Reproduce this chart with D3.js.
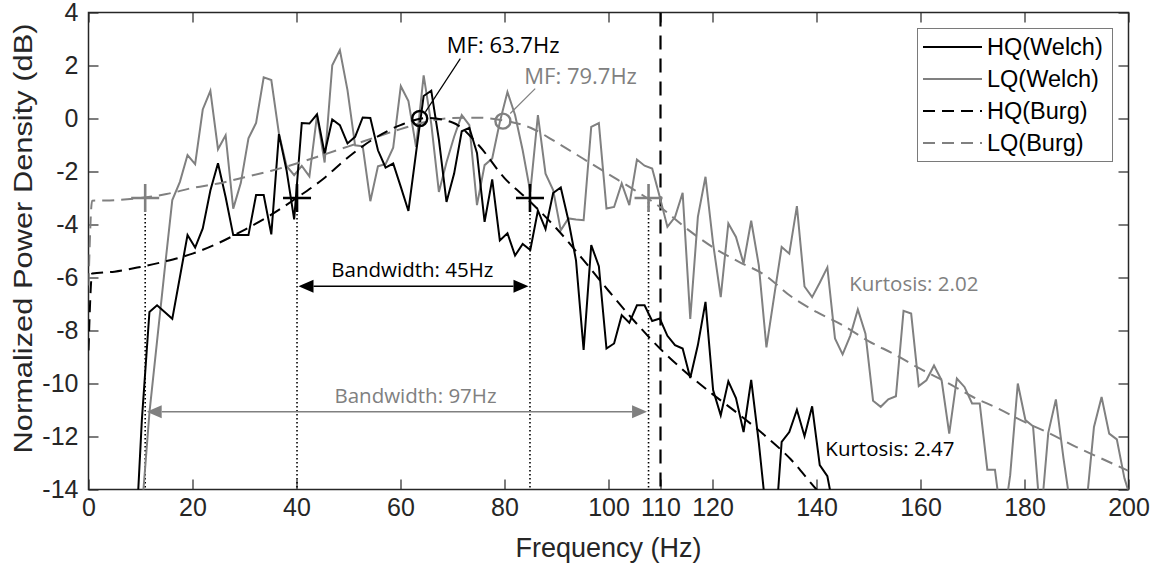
<!DOCTYPE html>
<html><head><meta charset="utf-8">
<script src="https://cdn.jsdelivr.net/npm/d3@7"></script>
<style>
body{margin:0;background:#fff;}
svg{display:block;}
</style></head><body>
<svg id="chart" width="1157" height="565"></svg>
<script>
// ---------- data ----------
const df = 1.46484375; // Welch frequency resolution (Hz)
const hqWelch = [-25,-25,-25,-25,-25,-25,-17,-11.4,-7.3,-7.05,
 -7.3,-7.56,-5.98,-4.4,-4.87,-4.15,-2.72,-1.69,-2.96,-4.4,
 -4.4,-4.4,-2.89,-2.89,-4.37,-0.59,-1.95,-3.81,-0.17,-0.19,
 0.16,-1.32,-0.04,-0.25,-0.94,-0.69,0.04,0.02,-1.2,-1.85,
 -1.7,-2.58,-3.49,-1.3,0.85,1.05,-0.8,-3.15,-2.08,-0.48,
 -0.35,-1.3,-3.9,-2.3,-4.6,-4.33,-5.17,-4.73,-4.96,-3.47,
 -4.17,-2.81,-2.6,-3.84,-5.35,-8.73,-4.78,-5.57,-8.68,-8.49,
 -7.42,-7.71,-7.05,-7.05,-7.64,-7.55,-8.2,-8.55,-8.68,-9.79,
 -8.55,-6.92,-10.25,-11.2,-9.92,-10.55,-11.83,-9.86,-12.23,-15,
 -16.2,-12.2,-11.83,-10.99,-11.99,-10.86,-13.08,-13.5,-15,-17];
const lqWelch = [-25,-25,-25,-25,-25,-25,-22,-14.8,-11.1,-8.4,
 -5.7,-3.08,-2.39,-1.38,-1.72,0.34,1.04,-1.16,-0.63,-3.4,
 -2.43,-0.75,-0.17,1.55,1.45,-0.57,-1.79,-2.14,-1.79,-2.18,
 0.12,-1.66,2.01,2.58,1.07,-1.01,-1.05,-3.12,-1.8,-1.72,
 -1.1,1.22,0.66,-1.07,1.63,-0.2,-2.77,-1.65,-0.69,0.13,
 -0.25,-3.27,-1.76,-1.51,-0.13,1.0,0.13,-1.2,-2.77,0.13,
 -2.08,-2.7,-4.22,-3.77,-3.81,-3.84,-0.32,-0.17,-3.4,-3.34,
 -2.45,-3.27,-1.55,-1.78,-1.89,-2.96,-4.09,-3.72,-2.8,-7.56,
 -3.71,-2.2,-4.72,-6.74,-3.96,-4.47,-5.47,-3.86,-5.54,-8.64,
 -6.73,-4.85,-5.1,-3.31,-6.34,-6.74,-6.2,-5.62,-8.3,-8.9,
 -8.2,-7.21,-8.12,-10.65,-10.88,-10.6,-10.48,-7.26,-7.36,-10.1,
 -9.88,-9.32,-9.88,-11.89,-9.81,-10.13,-10.75,-10.75,-13.25,-13.25,
 -15.5,-13.46,-10.0,-11.38,-11.61,-15.2,-11.86,-10.6,-12.83,-14.8,
 -15.5,-14.6,-11.64,-10.51,-11.89,-12.11,-13.58,-14.5];
const burgFreqHQ = [0,0.7,5,10,15,20,25,30,35,40,45,50,55,60,65,70,75,80,85,90,95,100,105,110,115,120,125,130,135,140,145];
const hqBurg = [-8.75,-5.85,-5.78,-5.6,-5.38,-5.1,-4.7,-4.2,-3.65,-3.0,-2.3,-1.45,-0.75,-0.25,0.02,-0.15,-1.0,-2.25,-3.15,-4.15,-5.3,-6.5,-7.65,-8.7,-9.6,-10.4,-11.15,-11.95,-12.85,-14.0,-15.0];
const burgFreqLQ = [0,0.7,5,10,15,20,25,30,35,40,45,50,55,60,65,70,75,80,85,90,95,100,105,110,115,120,125,130,135,140,145,150,155,160,165,170,175,180,185,190,195,200];
const lqBurg = [-6.3,-3.1,-3.08,-3.0,-2.85,-2.62,-2.45,-2.22,-1.98,-1.7,-1.38,-1.05,-0.72,-0.4,-0.12,0.02,0.03,-0.08,-0.35,-0.9,-1.5,-2.1,-2.7,-3.35,-4.15,-4.85,-5.4,-5.9,-6.7,-7.3,-7.8,-8.4,-8.9,-9.45,-9.95,-10.5,-10.95,-11.45,-11.9,-12.4,-12.85,-13.3];
const xTicks = [0,20,40,60,80,100,110,120,140,160,180,200];
const yTicks = [-14,-12,-10,-8,-6,-4,-2,0,2,4];
const seriesNames = ["HQ(Welch)","LQ(Welch)","HQ(Burg)","LQ(Burg)"];
const mfFreq = [63.7, 79.7];
const mfLevel = [0, -0.1];
const bwLow = [40.1, 10.9];
const bwHigh = [84.9, 107.7];
const bwLevel = -3;
const cutoffFreq = 110;

// ---------- layout ----------
const BLACK = "#000", GRAY = "#808080";
const svg = d3.select("#chart");
const x = d3.scaleLinear().domain([0,200]).range([88.5,1128.5]);
const y = d3.scaleLinear().domain([-14,4]).range([489.5,12.5]);
const tickFont = "'Liberation Sans', Arial, sans-serif";
const annFont = "'Open Sans', 'Noto Sans', sans-serif";

svg.append("defs").append("clipPath").attr("id","plot")
  .append("rect").attr("x",x(0)).attr("y",y(4)).attr("width",x(200)-x(0)).attr("height",y(-14)-y(4));

function styleAxis(g, showLabels){
  g.select(".domain").remove();
  g.selectAll(".tick line").attr("stroke","#262626").attr("stroke-width",1.2);
  g.selectAll(".tick text").attr("font-family",tickFont).attr("font-size",25).attr("fill","#262626");
  if(!showLabels) g.selectAll(".tick text").remove();
}
svg.append("g").attr("transform",`translate(0,${y(-14)})`)
  .call(d3.axisBottom(x).tickValues(xTicks).tickSize(-10).tickPadding(9).tickFormat(d=>String(d)))
  .call(g=>styleAxis(g,true));
svg.append("g").attr("transform",`translate(0,${y(4)})`)
  .call(d3.axisTop(x).tickValues(xTicks).tickSize(-10))
  .call(g=>styleAxis(g,false));
svg.append("g").attr("transform",`translate(${x(0)},0)`)
  .call(d3.axisLeft(y).tickValues(yTicks).tickSize(-10).tickPadding(10).tickFormat(d=>String(d)))
  .call(g=>styleAxis(g,true));
svg.append("g").attr("transform",`translate(${x(200)},0)`)
  .call(d3.axisRight(y).tickValues(yTicks).tickSize(-10))
  .call(g=>styleAxis(g,false));

svg.append("rect").attr("x",x(0)).attr("y",y(4)).attr("width",x(200)-x(0)).attr("height",y(-14)-y(4))
  .attr("fill","none").attr("stroke","#262626").attr("stroke-width",1.5);

svg.append("text").attr("x",(x(0)+x(200))/2).attr("y",557).attr("text-anchor","middle")
  .attr("font-family",tickFont).attr("font-size",27).attr("fill","#262626").text("Frequency (Hz)");
svg.append("text").attr("transform",`translate(32,238.5) rotate(-90)`).attr("text-anchor","middle")
  .attr("font-family",tickFont).attr("font-size",26).attr("fill","#262626")
  .attr("textLength",430).attr("lengthAdjust","spacingAndGlyphs")
  .text("Normalized Power Density (dB)");

// ---------- series ----------
const plot = svg.append("g").attr("clip-path","url(#plot)");
const welchLine = d3.line().x((d,i)=>x(i*df)).y(d=>y(d));
const burgLine = d3.line().x(d=>x(d[0])).y(d=>y(d[1])).curve(d3.curveMonotoneX);

// cutoff line
plot.append("line").attr("x1",x(cutoffFreq)).attr("x2",x(cutoffFreq)).attr("y1",y(4)).attr("y2",y(-14))
  .attr("stroke",BLACK).attr("stroke-width",2.2).attr("stroke-dasharray","14,9");

// dotted bandwidth verticals
[...bwLow, ...bwHigh].forEach(f=>{
  plot.append("line").attr("x1",x(f)).attr("x2",x(f)).attr("y1",y(bwLevel)).attr("y2",y(-14))
    .attr("stroke",BLACK).attr("stroke-width",1.6).attr("stroke-dasharray","1.6,2.4");
});

plot.append("path").datum(lqWelch).attr("d",welchLine).attr("fill","none").attr("stroke",GRAY).attr("stroke-width",2);
plot.append("path").datum(hqWelch).attr("d",welchLine).attr("fill","none").attr("stroke",BLACK).attr("stroke-width",2);
plot.append("path").datum(burgFreqLQ.map((f,i)=>[f,lqBurg[i]])).attr("d",burgLine).attr("fill","none")
  .attr("stroke",GRAY).attr("stroke-width",2).attr("stroke-dasharray","12,7");
plot.append("path").datum(burgFreqHQ.map((f,i)=>[f,hqBurg[i]])).attr("d",burgLine).attr("fill","none")
  .attr("stroke",BLACK).attr("stroke-width",2).attr("stroke-dasharray","12,7");

// ---------- markers ----------
const colors = [BLACK, GRAY];
[0,1].forEach(s=>{
  [bwLow[s], bwHigh[s]].forEach(f=>{
    const cx=x(f), cy=y(bwLevel), h=14;
    svg.append("path").attr("d",`M${cx-h},${cy}H${cx+h}M${cx},${cy-h}V${cy+h}`)
      .attr("stroke",colors[s]).attr("stroke-width",2.6).attr("fill","none");
  });
  svg.append("circle").attr("cx",x(mfFreq[s])).attr("cy",y(mfLevel[s])).attr("r",7.5)
    .attr("fill","none").attr("stroke",colors[s]).attr("stroke-width",2.4);
});

// MF leaders and labels
svg.append("line").attr("x1",x(64.8)).attr("y1",y(0.25)).attr("x2",x(71.5)).attr("y2",y(2.26))
  .attr("stroke",BLACK).attr("stroke-width",1.2);
svg.append("text").attr("x",x(68.9)).attr("y",y(2.46)).attr("font-family",annFont).attr("font-size",22)
  .attr("fill",BLACK).text("MF: 63.7Hz");
svg.append("line").attr("x1",x(81.1)).attr("y1",y(0.19)).attr("x2",x(85.9)).attr("y2",y(1.13))
  .attr("stroke",GRAY).attr("stroke-width",1.2);
svg.append("text").attr("x",x(83.8)).attr("y",y(1.29)).attr("font-family",annFont).attr("font-size",22)
  .attr("fill",GRAY).text("MF: 79.7Hz");

// bandwidth arrows
function arrow(f0,f1,lev,col){
  const yy=y(lev), a=x(f0)+1.5, b=x(f1)-1.5, L=15, w=6.5;
  svg.append("line").attr("x1",a+L).attr("x2",b-L).attr("y1",yy).attr("y2",yy).attr("stroke",col).attr("stroke-width",1.5);
  svg.append("path").attr("d",`M${a},${yy}L${a+L},${yy-w}L${a+L},${yy+w}Z`).attr("fill",col);
  svg.append("path").attr("d",`M${b},${yy}L${b-L},${yy-w}L${b-L},${yy+w}Z`).attr("fill",col);
}
arrow(bwLow[0],bwHigh[0],-6.33,BLACK);
arrow(bwLow[1],bwHigh[1],-11.07,GRAY);
svg.append("text").attr("x",x(46.7)).attr("y",y(-5.99)).attr("font-family",annFont).attr("font-size",20.5)
  .attr("fill",BLACK).text("Bandwidth: 45Hz");
svg.append("text").attr("x",x(47.3)).attr("y",y(-10.74)).attr("font-family",annFont).attr("font-size",20.5)
  .attr("fill",GRAY).text("Bandwidth: 97Hz");
svg.append("text").attr("x",x(146.3)).attr("y",y(-6.52)).attr("font-family",annFont).attr("font-size",20.5)
  .attr("fill",GRAY).text("Kurtosis: 2.02");
svg.append("text").attr("x",x(141.7)).attr("y",y(-12.75)).attr("font-family",annFont).attr("font-size",20.5)
  .attr("fill",BLACK).text("Kurtosis: 2.47");

// ---------- legend ----------
const lg = svg.append("g");
lg.append("rect").attr("x",917.5).attr("y",28.5).attr("width",195).attr("height",133)
  .attr("fill","#fff").attr("stroke","#7a7a7a").attr("stroke-width",1);
const legStyle = [[BLACK,null],[GRAY,null],[BLACK,"12,7"],[GRAY,"12,7"]];
seriesNames.forEach((name,i)=>{
  const yy = 47 + i*32;
  lg.append("line").attr("x1",923).attr("x2",982).attr("y1",yy).attr("y2",yy)
    .attr("stroke",legStyle[i][0]).attr("stroke-width",2).attr("stroke-dasharray",legStyle[i][1]);
  lg.append("text").attr("x",987).attr("y",yy).attr("dy","0.36em").attr("font-family",tickFont)
    .attr("font-size",23.5).attr("fill","#000").text(name);
});
</script>
</body></html>
